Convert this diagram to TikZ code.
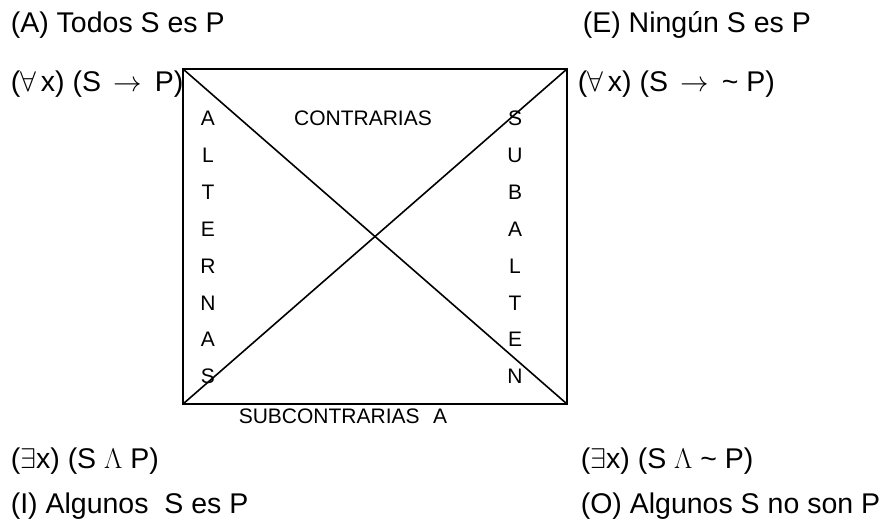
\RequirePackage{fix-cm}
\documentclass[tikz,border=0pt]{standalone}
\usepackage{fontspec}
\setmainfont{Liberation Sans}
\usepackage{tikz}

\tikzset{
  bigtext/.style={anchor=base west, inner sep=0pt, font=\fontsize{28.5}{30}\selectfont},
  smalltext/.style={anchor=base, inner sep=0pt, font=\fontsize{21}{22}\selectfont},
}

\begin{document}
\begin{tikzpicture}[x=1pt, y=-1pt, line width=1.6pt]
  \useasboundingbox (0,0) rectangle (894,530);
  % corners of the square
  \coordinate (A) at (183,69);
  \coordinate (E) at (567,69);
  \coordinate (I) at (183,404);
  \coordinate (O) at (567,404);
  \draw (A) rectangle (O);
  \draw (A) -- (O);
  \draw (E) -- (I);
  % vertical words
  \foreach[count=\i from 0] \la/\ra in {A/S, L/U, T/B, E/A, R/L, N/T, A/E, S/N} {
    \pgfmathsetmacro\yb{125.5 + \i*36.9}
    \node[smalltext] (alt\i) at (208, \yb) {\la};
    \node[smalltext] (sub\i) at (515, \yb) {\ra};
  }
  \node[smalltext] (contr) at (363, 125.5) {CONTRARIAS};
  \node[smalltext, anchor=base west] (subcontr) at (238, 423) {SUBCONTRARIAS};
  \node[smalltext] (subA) at (440, 423) {A};
  % propositions
  \node[bigtext] (nameA) at (10, 32) {(A) Todos S es P};
  \node[bigtext] (formA) at (10, 91) {(\(\forall\,\)x) (S \(\,\rightarrow\,\) P)};
  \node[bigtext] (nameE) at (582, 32) {(E) Ningún S es P};
  \node[bigtext] (formE) at (577, 91) {(\(\forall\,\)x) (S \(\,\rightarrow\,\) \textasciitilde\ P)};
  \node[bigtext] (formI) at (10, 468) {(\(\exists\)x) (S \(\Lambda\) P)};
  \node[bigtext] (nameI) at (10, 513) {(I) Algunos\ \ S es P};
  \node[bigtext] (formO) at (580, 468) {(\(\exists\)x) (S \(\Lambda\) \textasciitilde\ P)};
  \node[bigtext] (nameO) at (580, 513) {(O) Algunos S no son P};
\end{tikzpicture}
\end{document}
